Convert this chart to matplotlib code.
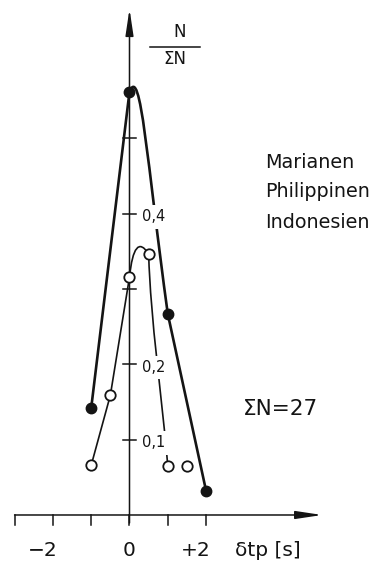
import matplotlib
matplotlib.use("Agg")
import matplotlib.pyplot as plt
from matplotlib.path import Path
from matplotlib.patches import PathPatch

plt.rcParams['font.family'] = ['DejaVu Sans']

# Relative frequency N/ΣN of travel-time residuals δtp
dt_solid = [-1, 0, 1, 2]
frac_solid = [0.142, 0.562, 0.267, 0.032]
dt_open = [-1, -0.5, 0, 0.5, 1, 1.5]
frac_open = [0.066, 0.159, 0.316, 0.347, 0.065, 0.065]

x_ticks = [-3, -2, -1, 0, 1, 2]
x_tick_labels = {-2: "\u22122", 0: "0", 2: "+2"}
y_ticks = [0.1, 0.2, 0.3, 0.4, 0.5]
y_tick_labels = {0.1: "0,1", 0.2: "0,2", 0.4: "0,4"}
regions = ["Marianen", "Philippinen", "Indonesien"]
total_n = 27

ink = "#141414"

fig = plt.figure(figsize=(3.78, 5.61), dpi=100)
ax = fig.add_axes([0, 0, 1, 1])
ax.set_xlim(-3.381, 6.488)
ax.set_ylim(-0.0611, 0.6839)
ax.axis("off")

# axes with arrow heads
arrow = dict(arrowstyle="-|>,head_length=1.6,head_width=0.24", lw=1.1,
             color=ink, shrinkA=0, shrinkB=0)
ax.annotate("", xy=(5.03, 0), xytext=(x_ticks[0], 0), arrowprops=arrow)
ax.annotate("", xy=(0, 0.672), xytext=(0, -0.0106), arrowprops=arrow)

for x in x_ticks:
    ax.plot([x, x], [0, -0.0133], color=ink, lw=1.1)
for y in y_ticks:
    ax.plot([-0.18, 0.18], [y, y], color=ink, lw=1.1)

for x, lab in x_tick_labels.items():
    off = -0.26 if lab[0] in "+\u2212" else 0.0
    ax.text(x + off, -0.0465, lab, ha="center", va="center", fontsize=14.5, color=ink)
ax.text(3.6, -0.0465, "δtp [s]", ha="center", va="center", fontsize=14.5, color=ink)

for y, lab in y_tick_labels.items():
    ax.text(0.33, y - 0.004, lab, ha="left", va="center", fontsize=10.5, color=ink,
            bbox=dict(boxstyle="square,pad=0.3", fc="white", ec="none"), zorder=4)

# solid series: straight rise, hooked crest, then falling flank
x0, y0 = dt_solid[1], frac_solid[1]
solid_verts = [(dt_solid[0], frac_solid[0]), (x0, y0),
               (x0 + 0.3, y0 + 0.038), (x0 + 0.45, y0 - 0.092),
               (dt_solid[2], frac_solid[2]), (dt_solid[3], frac_solid[3])]
solid_codes = [Path.MOVETO, Path.LINETO, Path.CURVE4, Path.CURVE4, Path.CURVE4, Path.LINETO]
ax.add_patch(PathPatch(Path(solid_verts, solid_codes), fill=False, ec=ink, lw=1.9,
                       capstyle="round", joinstyle="round", zorder=3))

# open series
xa, ya = dt_open[2], frac_open[2]
xb, yb = dt_open[3], frac_open[3]
open_verts = [(dt_open[0], frac_open[0]), (dt_open[1], frac_open[1]), (xa, ya),
              (xa + 0.12, ya + 0.06), (xb, yb),
              (xb + 0.05, yb - 0.09), (xb + 0.35, yb - 0.19), (dt_open[4], frac_open[4])]
open_codes = [Path.MOVETO, Path.LINETO, Path.LINETO, Path.CURVE3, Path.CURVE3,
              Path.CURVE4, Path.CURVE4, Path.CURVE4]
ax.add_patch(PathPatch(Path(open_verts, open_codes), fill=False, ec=ink, lw=1.2,
                       capstyle="round", joinstyle="round", zorder=3))

ax.plot(dt_solid, frac_solid, "o", ms=7.5, color=ink, zorder=5)
ax.plot(dt_open, frac_open, "o", ms=7.5, mfc="white", mec=ink, mew=1.3, zorder=5)

# y-axis label as a fraction
ax.text(1.3, 0.641, "N", ha="center", va="center", fontsize=12, color=ink)
ax.plot([0.535, 1.84], [0.6215, 0.6215], color=ink, lw=1.1)
ax.text(1.18, 0.605, "ΣN", ha="center", va="center", fontsize=12, color=ink)

for v, name in zip([0.4675, 0.429, 0.389], regions):
    ax.text(3.54, v, name, ha="left", va="center", fontsize=13.8, color=ink)

ax.text(2.96, 0.141, f"ΣN={total_n}", ha="left", va="center", fontsize=15.5, color=ink)

fig.savefig("out.png", dpi=100, facecolor="white")
